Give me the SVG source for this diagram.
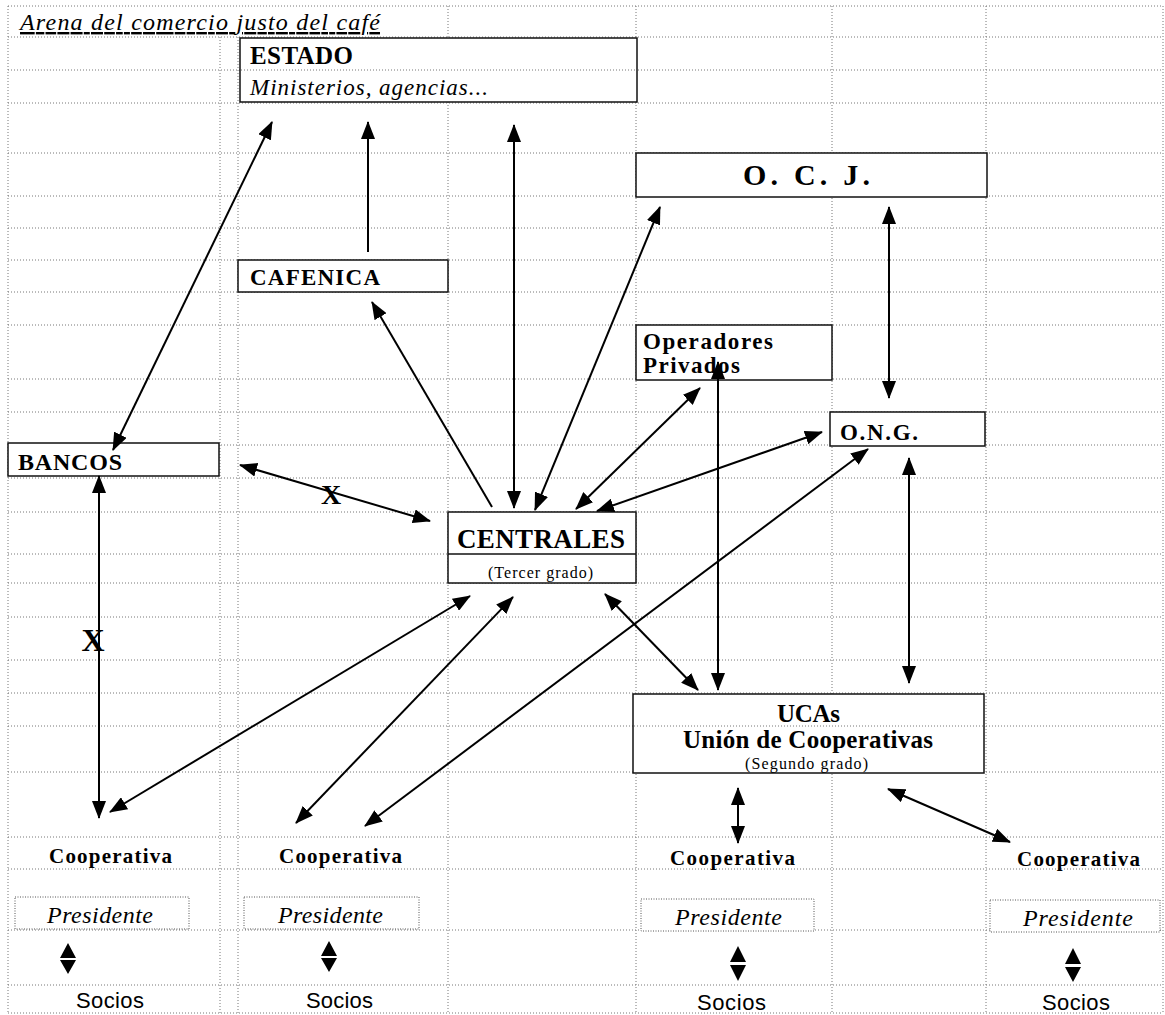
<svg xmlns="http://www.w3.org/2000/svg" width="1165" height="1015" viewBox="0 0 1165 1015">
<style>
.grid line{stroke:#777;stroke-width:1;stroke-dasharray:1 2}
.box{fill:#fff;stroke:#111;stroke-width:1.5}
.pres{fill:#fff;stroke:#555;stroke-width:1;stroke-dasharray:1 1.5}
.b{font-family:"Liberation Serif",serif;font-weight:bold;fill:#000}
.i{font-family:"Liberation Serif",serif;font-style:italic;fill:#000}
.r{font-family:"Liberation Serif",serif;fill:#000}
.s{font-family:"Liberation Sans",sans-serif;fill:#000}
.c line{stroke:#000;stroke-width:2;marker-end:url(#ah);marker-start:url(#ah)}
.c line.one{marker-start:none}
.tri{fill:#000}
</style>
<defs>
<marker id="ah" viewBox="0 0 18 14" markerWidth="18" markerHeight="14" refX="17" refY="7" orient="auto-start-reverse" markerUnits="userSpaceOnUse">
<path d="M0,0 L18,7 L0,14 z" fill="#000"/>
</marker>
</defs>
<rect width="1165" height="1015" fill="#fff"/>
<g class="grid" id="grid">
<line x1="8" y1="6" x2="8" y2="1013"/>
<line x1="220" y1="37" x2="220" y2="1013"/>
<line x1="238" y1="37" x2="238" y2="1013"/>
<line x1="448" y1="6" x2="448" y2="1013"/>
<line x1="636" y1="6" x2="636" y2="1013"/>
<line x1="832" y1="6" x2="832" y2="1013"/>
<line x1="986" y1="6" x2="986" y2="1013"/>
<line x1="1163" y1="6" x2="1163" y2="1013"/>
<line x1="8" y1="6" x2="1163" y2="6"/>
<line x1="8" y1="37" x2="1163" y2="37"/>
<line x1="8" y1="70" x2="1163" y2="70"/>
<line x1="8" y1="103" x2="1163" y2="103"/>
<line x1="8" y1="153" x2="1163" y2="153"/>
<line x1="8" y1="196" x2="1163" y2="196"/>
<line x1="8" y1="228" x2="1163" y2="228"/>
<line x1="8" y1="260" x2="1163" y2="260"/>
<line x1="8" y1="292" x2="1163" y2="292"/>
<line x1="8" y1="325" x2="1163" y2="325"/>
<line x1="8" y1="379" x2="1163" y2="379"/>
<line x1="8" y1="412" x2="1163" y2="412"/>
<line x1="8" y1="445" x2="1163" y2="445"/>
<line x1="8" y1="478" x2="1163" y2="478"/>
<line x1="8" y1="512" x2="1163" y2="512"/>
<line x1="8" y1="554" x2="1163" y2="554"/>
<line x1="8" y1="583" x2="1163" y2="583"/>
<line x1="8" y1="617" x2="1163" y2="617"/>
<line x1="8" y1="660" x2="1163" y2="660"/>
<line x1="8" y1="693" x2="1163" y2="693"/>
<line x1="8" y1="726" x2="1163" y2="726"/>
<line x1="8" y1="772" x2="1163" y2="772"/>
<line x1="8" y1="837" x2="1163" y2="837"/>
<line x1="8" y1="869" x2="1163" y2="869"/>
<line x1="8" y1="930" x2="1163" y2="930"/>
<line x1="8" y1="985" x2="1163" y2="985"/>
<line x1="8" y1="1013" x2="1163" y2="1013"/>
</g>
<g id="title">
<text class="i" x="20" y="30" font-size="24" textLength="360" text-decoration="underline">Arena del comercio justo del café</text>
</g>
<g id="estado">
<rect class="box" x="240" y="38" width="397" height="64"/>
<g class="grid"><line x1="241" y1="70" x2="636" y2="70"/></g>
<text class="b" x="250" y="64" font-size="25" textLength="103">ESTADO</text>
<text class="i" x="250" y="95" font-size="23" textLength="238">Ministerios, agencias...</text>
</g>
<g id="ocj">
<rect class="box" x="636" y="153" width="351" height="44"/>
<text class="b" x="743" y="185" font-size="30" textLength="127">O. C. J.</text>
</g>
<g id="cafenica">
<rect class="box" x="238" y="260" width="210" height="32"/>
<text class="b" x="250" y="285" font-size="23" textLength="130">CAFENICA</text>
</g>
<g id="operadores">
<rect class="box" x="636" y="325" width="196" height="55"/>
<text class="b" x="643" y="349" font-size="23" textLength="130">Operadores</text>
<text class="b" x="643" y="373" font-size="23" textLength="97">Privados</text>
</g>
<g id="ong">
<rect class="box" x="830" y="412" width="155" height="34"/>
<text class="b" x="840" y="440" font-size="23" textLength="78">O.N.G.</text>
</g>
<g id="bancos">
<rect class="box" x="8" y="443" width="211" height="33"/>
<text class="b" x="18" y="470" font-size="24" textLength="104">BANCOS</text>
</g>
<g id="centrales">
<rect class="box" x="448" y="512" width="188" height="71"/>
<line x1="448" y1="554" x2="636" y2="554" stroke="#111" stroke-width="1.5"/>
<text class="b" x="457" y="548" font-size="27" textLength="168">CENTRALES</text>
<text class="r" x="488" y="578" font-size="16" textLength="105">(Tercer grado)</text>
</g>
<g id="ucas">
<rect class="box" x="633" y="694" width="351" height="79"/>
<g class="grid"><line x1="634" y1="726" x2="983" y2="726"/></g>
<text class="b" x="777" y="722" font-size="25" textLength="63">UCAs</text>
<text class="b" x="683" y="748" font-size="25" textLength="250">Unión de Cooperativas</text>
<text class="r" x="745" y="769" font-size="16" textLength="123">(Segundo grado)</text>
</g>
<g id="coop1">
<text class="b" x="49" y="863" font-size="21" textLength="123">Cooperativa</text>
<rect class="pres" x="15" y="897" width="174" height="32"/>
<text class="i" x="47" y="923" font-size="24" textLength="106">Presidente</text>
<path class="tri" d="M68,943 L76,958 L60,958 Z M60,960 L76,960 L68,974 Z"/>
<text class="s" x="76" y="1008" font-size="22" textLength="68">Socios</text>
</g>
<g id="coop2">
<text class="b" x="279" y="863" font-size="21" textLength="123">Cooperativa</text>
<rect class="pres" x="244" y="897" width="175" height="32"/>
<text class="i" x="278" y="923" font-size="24" textLength="105">Presidente</text>
<path class="tri" d="M329,941 L337,956 L321,956 Z M321,958 L337,958 L329,972 Z"/>
<text class="s" x="306" y="1008" font-size="22" textLength="67">Socios</text>
</g>
<g id="coop3">
<text class="b" x="670" y="865" font-size="21" textLength="125">Cooperativa</text>
<rect class="pres" x="641" y="899" width="173" height="32"/>
<text class="i" x="675" y="925" font-size="24" textLength="107">Presidente</text>
<path class="tri" d="M738,946 L746,962 L730,962 Z M730,965 L746,965 L738,981 Z"/>
<text class="s" x="697" y="1010" font-size="22" textLength="69">Socios</text>
</g>
<g id="coop4">
<text class="b" x="1017" y="866" font-size="21" textLength="123">Cooperativa</text>
<rect class="pres" x="990" y="900" width="170" height="32"/>
<text class="i" x="1023" y="926" font-size="24" textLength="110">Presidente</text>
<path class="tri" d="M1073,948 L1081,964 L1065,964 Z M1065,967 L1081,967 L1073,982 Z"/>
<text class="s" x="1042" y="1010" font-size="22" textLength="68">Socios</text>
</g>
<g class="c" id="connectors">
<line x1="113" y1="450" x2="272" y2="122"/>
<line class="one" x1="368" y1="252" x2="368" y2="122"/>
<line x1="514" y1="508" x2="514" y2="125"/>
<line class="one" x1="492" y1="507" x2="372" y2="302"/>
<line x1="535" y1="510" x2="660" y2="207"/>
<line x1="576" y1="509" x2="700" y2="388"/>
<line x1="597" y1="511" x2="822" y2="432"/>
<line x1="240" y1="465" x2="430" y2="521"/>
<line x1="99" y1="476" x2="99" y2="818"/>
<line x1="470" y1="596" x2="110" y2="812"/>
<line x1="513" y1="597" x2="296" y2="823"/>
<line x1="868" y1="449" x2="365" y2="826"/>
<line x1="605" y1="594" x2="698" y2="690"/>
<line x1="718" y1="362" x2="718" y2="690"/>
<line x1="889" y1="207" x2="889" y2="398"/>
<line x1="909" y1="458" x2="909" y2="683"/>
<line x1="738" y1="788" x2="738" y2="843"/>
<line x1="888" y1="789" x2="1010" y2="842"/>
</g>
<g id="labels">
<text class="b" x="331" y="504" font-size="28" text-anchor="middle">X</text>
<text class="b" x="93" y="651" font-size="32" text-anchor="middle">X</text>
</g>
</svg>
